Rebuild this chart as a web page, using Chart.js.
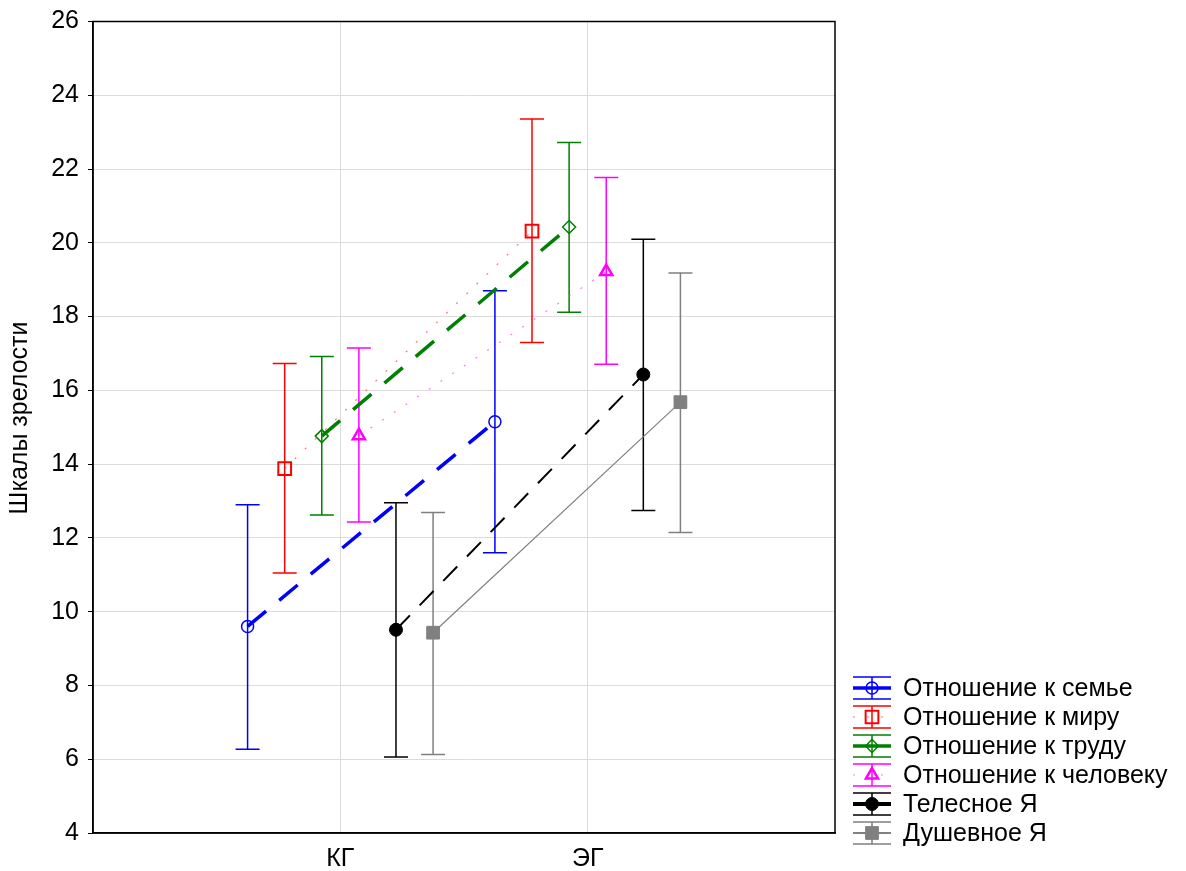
<!DOCTYPE html>
<html><head><meta charset="utf-8">
<script src="https://cdn.jsdelivr.net/npm/chart.js@4/dist/chart.umd.min.js"></script>
<style>html,body{margin:0;padding:0;background:#fff}#wrap{width:1186px;height:871px}</style>
</head><body><div id="wrap"><canvas id="c" width="1186" height="871"></canvas></div>
<script>
// ---- data ----
const categories = ['КГ', 'ЭГ'];
const seriesNames = ['Отношение к семье', 'Отношение к миру', 'Отношение к труду', 'Отношение к человеку', 'Телесное Я', 'Душевное Я'];
const yTickValues = [4, 6, 8, 10, 12, 14, 16, 18, 20, 22, 24, 26];
const yAxisTitle = 'Шкалы зрелости';

const semyaMean = [9.6, 15.15],  semyaLow = [6.27, 11.6],  semyaHigh = [12.9, 18.7];
const miruMean  = [13.88, 20.32], miruLow  = [11.05, 17.3], miruHigh  = [16.73, 23.36];
const truduMean = [14.76, 20.43], truduLow = [12.62, 18.12], truduHigh = [16.92, 22.72];
const chelMean  = [14.77, 19.22], chelLow  = [12.43, 16.71], chelHigh  = [17.15, 21.77];
const telMean   = [9.51, 16.43],  telLow   = [6.06, 12.74],  telHigh   = [12.95, 20.1];
const dushMean  = [9.43, 15.68],  dushLow  = [6.13, 12.15],  dushHigh  = [12.69, 19.18];

// ---- layout / style constants ----
const offsets = [-0.375, -0.225, -0.075, 0.075, 0.225, 0.375];
const FONT = '"Liberation Sans", Arial, sans-serif';
const FS = 25;

const means = [semyaMean, miruMean, truduMean, chelMean, telMean, dushMean];
const lows  = [semyaLow, miruLow, truduLow, chelLow, telLow, dushLow];
const highs = [semyaHigh, miruHigh, truduHigh, chelHigh, telHigh, dushHigh];

const styles = [
  {color:'#0000ff', line:'#0000ff', width:3.5, dash:[24,17], pstyle:'circle', r:6, fill:'rgba(0,0,0,0)', pbw:1.5, lgw:3.5, lgdash:[]},
  {color:'#ff0000', line:'rgba(255,60,60,0.7)', width:1.2, dash:[2,12], pstyle:'rect', r:9, fill:'rgba(0,0,0,0)', pbw:2, lgw:1, lgdash:[2,12]},
  {color:'#008000', line:'#008000', width:3.5, dash:[24,17], pstyle:'rectRot', r:6.5, fill:'rgba(0,0,0,0)', pbw:1.5, lgw:3.5, lgdash:[]},
  {color:'#ff00ff', line:'rgba(255,60,255,0.7)', width:1.2, dash:[2,12], pstyle:'triangle', r:7, fill:'rgba(0,0,0,0)', pbw:2.5, lgw:1, lgdash:[2,12]},
  {color:'#000000', line:'#000000', width:2, dash:[20,14], pstyle:'circle', r:6.5, fill:'#000000', pbw:1, lgw:4, lgdash:[]},
  {color:'#808080', line:'#808080', width:1.2, dash:[], pstyle:'rect', r:9, fill:'#808080', pbw:1, lgw:2, lgdash:[]}
];

const datasets = seriesNames.map((name, i) => ({
  label: name,
  data: categories.map((c, j) => ({x: j + 1 + offsets[i], y: means[i][j]})),
  errLow: lows[i], errHigh: highs[i],
  borderColor: styles[i].line,
  borderWidth: styles[i].width,
  borderDash: styles[i].dash,
  pointStyle: styles[i].pstyle,
  pointRadius: styles[i].r,
  pointHoverRadius: styles[i].r,
  pointBackgroundColor: styles[i].fill,
  pointBorderColor: styles[i].color,
  pointBorderWidth: styles[i].pbw,
  fill: false,
  tension: 0,
  _st: styles[i]
}));

const errorBars = {
  id: 'errorBars',
  beforeDatasetsDraw(chart) {
    const {ctx, scales: {x, y}} = chart;
    chart.data.datasets.forEach(ds => {
      ds.data.forEach((p, j) => {
        const px = x.getPixelForValue(p.x);
        const lo = y.getPixelForValue(ds.errLow[j]);
        const hi = y.getPixelForValue(ds.errHigh[j]);
        ctx.save();
        ctx.strokeStyle = ds._st.color;
        ctx.lineWidth = 1.5;
        ctx.beginPath();
        ctx.moveTo(px, lo); ctx.lineTo(px, hi);
        ctx.moveTo(px - 12, lo); ctx.lineTo(px + 12, lo);
        ctx.moveTo(px - 12, hi); ctx.lineTo(px + 12, hi);
        ctx.stroke();
        ctx.restore();
      });
    });
  },
  afterDraw(chart) {
    const {ctx, chartArea: a} = chart;
    ctx.save();
    ctx.strokeStyle = '#000';
    ctx.lineWidth = 1.5;
    ctx.strokeRect(a.left, a.top, a.right - a.left, a.bottom - a.top);
    // y axis title
    ctx.fillStyle = '#000';
    ctx.font = FS + 'px ' + FONT;
    ctx.textAlign = 'center';
    ctx.textBaseline = 'middle';
    ctx.translate(20, 418);
    ctx.rotate(-Math.PI / 2);
    ctx.fillText(yAxisTitle, 0, 0);
    ctx.restore();

    // legend
    chart.data.datasets.forEach((ds, i) => {
      const st = ds._st;
      const cy = 688 + i * 29;
      const x0 = 853, x1 = 891, cx = 872;
      ctx.save();
      ctx.strokeStyle = st.color; ctx.lineWidth = 1.5;
      ctx.beginPath();
      ctx.moveTo(x0, cy - 11); ctx.lineTo(x1, cy - 11);
      ctx.moveTo(x0, cy + 11); ctx.lineTo(x1, cy + 11);
      ctx.moveTo(cx, cy - 11); ctx.lineTo(cx, cy + 11);
      ctx.stroke();
      ctx.strokeStyle = st.line; ctx.lineWidth = st.lgw; ctx.setLineDash(st.lgdash);
      ctx.beginPath(); ctx.moveTo(x0, cy); ctx.lineTo(x1, cy); ctx.stroke();
      ctx.setLineDash([]);
      ctx.fillStyle = st.fill; ctx.strokeStyle = st.color; ctx.lineWidth = st.pbw;
      Chart.helpers.drawPoint(ctx, {pointStyle: st.pstyle, radius: st.r, rotation: 0, borderWidth: st.pbw}, cx, cy);
      ctx.restore();
      ctx.save();
      ctx.fillStyle = '#000'; ctx.font = FS + 'px ' + FONT;
      ctx.textAlign = 'left'; ctx.textBaseline = 'middle';
      ctx.fillText(ds.label, 903, cy + 1);
      ctx.restore();
    });
  }
};

new Chart(document.getElementById('c'), {
  type: 'line',
  data: {datasets},
  options: {
    responsive: false,
    animation: false,
    events: [],
    layout: {padding: {top: 19, right: 351, left: 0, bottom: 0}},
    plugins: {legend: {display: false}, tooltip: {enabled: false}, title: {display: false}},
    scales: {
      x: {
        type: 'linear', min: 0, max: 3,
        afterBuildTicks: s => { s.ticks = categories.map((c, j) => ({value: j + 1})); },
        afterFit: s => { s.height = 38; },
        ticks: {callback: v => categories[Math.round(v) - 1] || '', color: '#000', font: {size: FS, family: FONT}, padding: 11, maxRotation: 0, autoSkip: false},
        grid: {color: '#dcdcdc', lineWidth: 1, drawTicks: false},
        border: {display: true, color: '#000', width: 1.5}
      },
      y: {
        type: 'linear', min: 4, max: 26,
        afterBuildTicks: s => { s.ticks = yTickValues.map(v => ({value: v})); },
        afterFit: s => { s.width = 93; },
        ticks: {color: '#000', font: {size: FS, family: FONT, lineHeight: 1}, padding: 9, autoSkip: false},
        grid: {color: '#dcdcdc', lineWidth: 1, tickLength: 5, tickColor: '#000'},
        border: {display: true, color: '#000', width: 1.5}
      }
    }
  },
  plugins: [errorBars]
});
</script>
</body></html>
